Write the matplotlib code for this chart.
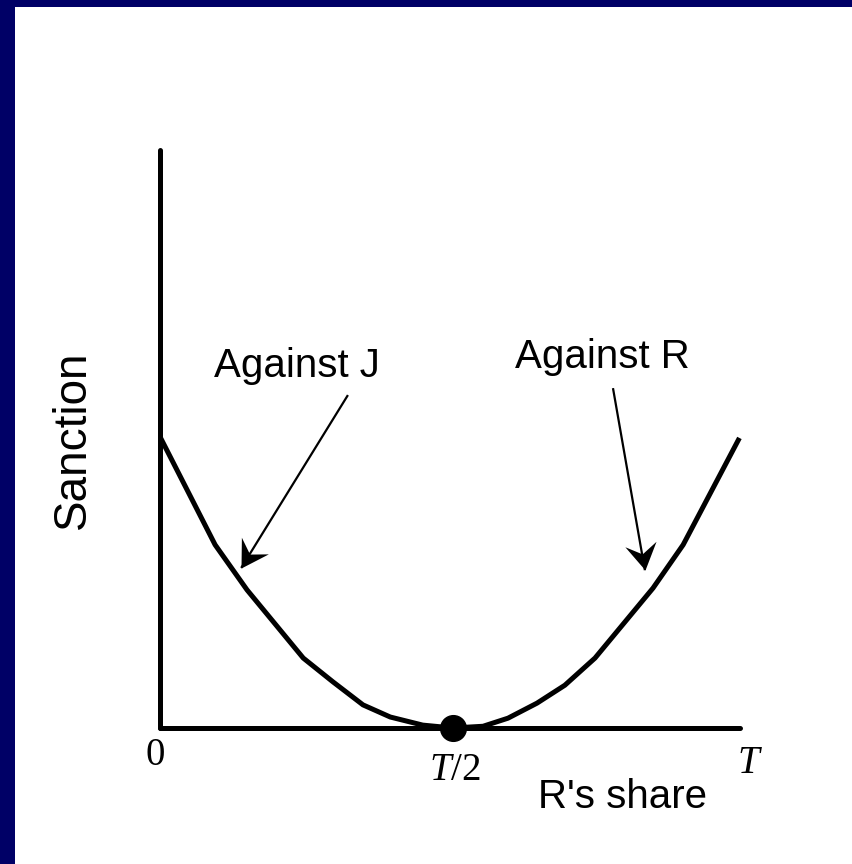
import numpy as np
import matplotlib
matplotlib.use('Agg')
import matplotlib.pyplot as plt
from matplotlib.patches import Rectangle
from matplotlib.path import Path
from matplotlib.markers import MarkerStyle
from matplotlib.transforms import Affine2D

# R's share (fraction of T) and sanction level
share = [0.003, 0.095, 0.15, 0.247, 0.298, 0.35, 0.397, 0.453, 0.505,
         0.557, 0.6, 0.65, 0.698, 0.75, 0.85, 0.902, 0.997]
sanction = [0.498, 0.317, 0.239, 0.121, 0.080, 0.040, 0.019, 0.005, 0.0,
            0.003, 0.017, 0.043, 0.074, 0.121, 0.242, 0.317, 0.498]
mid_point = (0.505, 0.0)

tick_labels = ['0', '$T$/2', '$T$']
tick_pos = [(-0.009, -0.047), (0.509, -0.074), (1.017, -0.062)]

navy = '#000066'

fig = plt.figure(figsize=(8.53, 8.64), dpi=100)
fig.patch.set_facecolor('white')
# navy frame on top and left edges
fig.patches.append(Rectangle((0, 0), 15 / 853, 1, transform=fig.transFigure,
                             facecolor=navy, edgecolor='none', zorder=0))
fig.patches.append(Rectangle((0, 1 - 7 / 864), 1, 7 / 864, transform=fig.transFigure,
                             facecolor=navy, edgecolor='none', zorder=0))

ax = fig.add_axes([160 / 853, 136 / 864, 580 / 853, 578 / 864])
ax.set_xlim(0, 1)
ax.set_ylim(0, 1)
ax.set_facecolor('none')
ax.set_xticks([])
ax.set_yticks([])
for s in ['top', 'right']:
    ax.spines[s].set_visible(False)
for s in ['left', 'bottom']:
    ax.spines[s].set_linewidth(3.6)
    ax.spines[s].set_capstyle('round')

ax.plot(share, sanction, color='black', lw=3.6, solid_joinstyle='miter', clip_on=False)
ax.plot(*mid_point, 'o', color='black', markersize=18.5, clip_on=False, zorder=5)

serif = ['Liberation Serif', 'DejaVu Serif']
sans = ['Liberation Sans', 'DejaVu Sans']
plt.rcParams['mathtext.fontset'] = 'custom'
plt.rcParams['mathtext.it'] = 'Liberation Serif:italic'
plt.rcParams['mathtext.rm'] = 'Liberation Serif'

for lab, (tx, ty) in zip(tick_labels, tick_pos):
    ax.text(tx, ty, lab, ha='center', va='center', fontsize=28, family=serif, clip_on=False)

ax.text(0.797, -0.119, "R's share", ha='center', va='center', fontsize=29, family=sans)
ax.text(-0.15, 0.498, 'Sanction', ha='center', va='center', rotation=90, fontsize=33, family=sans)

ax.text(0.236, 0.626, 'Against J', ha='center', va='center', fontsize=29, family=sans)
ax.text(0.762, 0.642, 'Against R', ha='center', va='center', fontsize=29, family=sans)

# pointer arrows with notched heads
head = Path([(0, 0), (-1, 0.6), (-0.62, 0), (-1, -0.6), (0, 0)],
            [Path.MOVETO, Path.LINETO, Path.LINETO, Path.LINETO, Path.CLOSEPOLY])
arrows = [((0.324, 0.576), (0.140, 0.277)),
          ((0.781, 0.588), (0.836, 0.273))]
for (x0, y0), (x1, y1) in arrows:
    ax.plot([x0, x1], [y0, y1], color='black', lw=1.6, solid_capstyle='butt')
    ang = np.degrees(np.arctan2((y1 - y0) * 578, (x1 - x0) * 580))
    m = MarkerStyle(head, transform=Affine2D().rotate_deg(ang))
    ax.plot(x1, y1, marker=m, color='black', markersize=38, markeredgewidth=0,
            linestyle='none', clip_on=False)

plt.savefig('out.png', dpi=100, facecolor=fig.get_facecolor())
